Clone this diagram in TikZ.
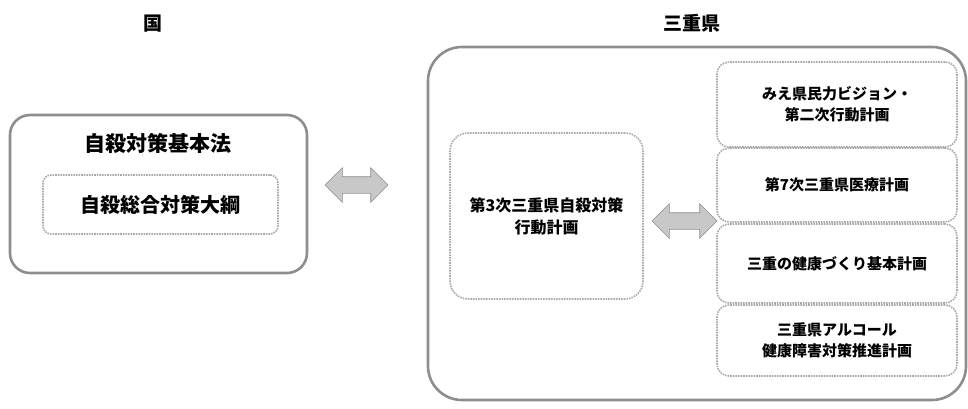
\documentclass[tikz,border=0pt]{standalone}
\usepackage{fontspec}
\setmainfont{Noto Sans CJK JP}
\usetikzlibrary{arrows.meta, positioning, shapes.arrows}
\definecolor{cframe}{HTML}{8E8E8E}
\definecolor{cdots}{HTML}{ABABAB}
\definecolor{cfillarrow}{HTML}{C8C8C8}
\tikzset{
  every picture/.style={line width=1pt},
  frame/.style={draw=cframe, line width=2.6pt, rounded corners=#1},
  frame/.default=20pt,
  plan/.style={draw=cdots, densely dotted, line width=1.6pt, rounded corners=12pt, align=center,
               font=\bfseries\fontsize{15}{21}\selectfont},
  head/.style={font=\bfseries\fontsize{19}{22}\selectfont},
  both/.style={double arrow, double arrow head extend=9pt, fill=cfillarrow, draw=cframe,
               line width=0.6pt, inner xsep=0pt, inner ysep=8pt, minimum height=#1},
}

\begin{document}
\begin{tikzpicture}[x=1pt, y=-1pt]
  \useasboundingbox (0,0) rectangle (968,408);
  % headings
  \node[head] (kuni) at (153,24) {国};
  \node[head] (mie) at (692,23) {三重県};
  % national side
  \node[frame, minimum width=297pt, minimum height=158pt] (kuniFrame) at (158.5,194) {};
  \node[font=\bfseries\fontsize{21}{24}\selectfont] (kihonhou) at (158,143) {自殺対策基本法};
  \node[plan, rounded corners=8pt, minimum width=235pt, minimum height=59pt,
        font=\bfseries\fontsize{20}{24}\selectfont] (taikou) at (160.5,204.5) {自殺総合対策大綱};
  \node[both=63pt] (kuniArrow) at (356.5,185) {};
  % prefecture side
  \node[frame=34pt, minimum width=538pt, minimum height=353pt] (mieFrame) at (697,223.5) {};
  \node[plan, rounded corners=18pt, minimum width=193pt, minimum height=166pt,
        font=\bfseries\fontsize{16}{22}\selectfont] (koudou) at (546.5,216)
        {第3次三重県自殺対策\\行動計画};
  \node[both=65pt] (mieArrow) at (684.5,221) {};
  % related plans, stacked on the right
  \foreach \n/\y/\h/\t in {vision/104.5/85/{みえ県民力ビジョン・\\第二次行動計画},
                           iryou/185/74/{第7次三重県医療計画},
                           kenkou/263.5/79/{三重の健康づくり基本計画},
                           alcohol/340.5/71/{三重県アルコール\\健康障害対策推進計画}} {
    \node[plan, minimum width=240pt, minimum height=\h pt] (\n) at (837,\y) {\t};
  }
\end{tikzpicture}
\end{document}
